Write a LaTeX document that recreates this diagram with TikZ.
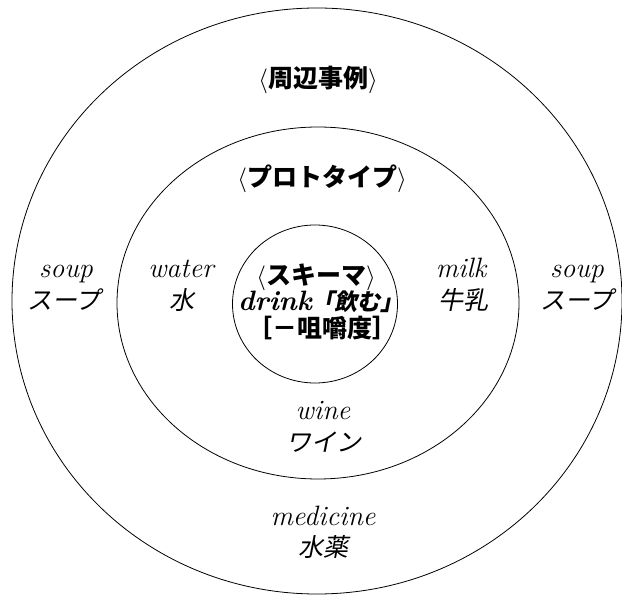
\documentclass[tikz,border=0pt]{standalone}
\usepackage{fontspec}
\usetikzlibrary{shapes.geometric}
\newfontfamily\jp{Noto Sans CJK JP}
\newfontfamily\jpsl[FakeSlant=0.2]{Noto Sans CJK JP}
\tikzset{
  ring/.style={draw, ellipse, line width=0.8pt, inner sep=0pt, fill=none},
  lbl/.style={anchor=base, inner sep=0pt, font=\fontsize{25}{30}\selectfont},
  en/.style={lbl, font=\fontsize{28}{30}\selectfont\itshape},
}
\begin{document}
\begin{tikzpicture}[x=1pt, y=-1pt]
\useasboundingbox (0,0) rectangle (622,596);
\node[ring, minimum width=610pt, minimum height=586pt] (outer) at (317,301) {};
\node[ring, minimum width=402pt, minimum height=352pt] (middle) at (318,303) {};
\node[ring, minimum width=165pt, minimum height=158pt] (inner) at (315,304) {};
% headings
\node[lbl] (peri) at (318,88) {$\langle$\jp\bfseries 周辺事例$\rangle$};
\node[lbl] (proto) at (322,187) {$\langle$\jp\bfseries プロトタイプ$\rangle$};
% inner schema
\node[lbl] (schema) at (316,285) {$\langle$\jp\bfseries スキーマ$\rangle$};
\node[lbl] (drink) at (321,311) {\fontsize{28}{30}\selectfont\bfseries\itshape drink{\fontsize{23}{30}\selectfont\jpsl\bfseries 「飲む」}};
\node[lbl] (chew) at (322,338) {\jp\bfseries ［－咀嚼度］};
% left soup
\node[en] (soupL) at (66,278) {soup};
\node[lbl] (soupLj) at (64,310) {\jpsl スープ};
% water
\node[en] (water) at (181,278) {water};
\node[lbl] (waterj) at (182,310) {\jpsl 水};
% milk
\node[en] (milk) at (461,278) {milk};
\node[lbl] (milkj) at (463,310) {\jpsl 牛乳};
% right soup
\node[en] (soupR) at (577,278) {soup};
\node[lbl] (soupRj) at (577,310) {\jpsl スープ};
% wine
\node[en] (wine) at (323,420) {wine};
\node[lbl] (winej) at (324,451) {\jpsl ワイン};
% medicine
\node[en] (med) at (323,525) {medicine};
\node[lbl] (medj) at (323,556) {\jpsl 水薬};
\end{tikzpicture}
\end{document}
